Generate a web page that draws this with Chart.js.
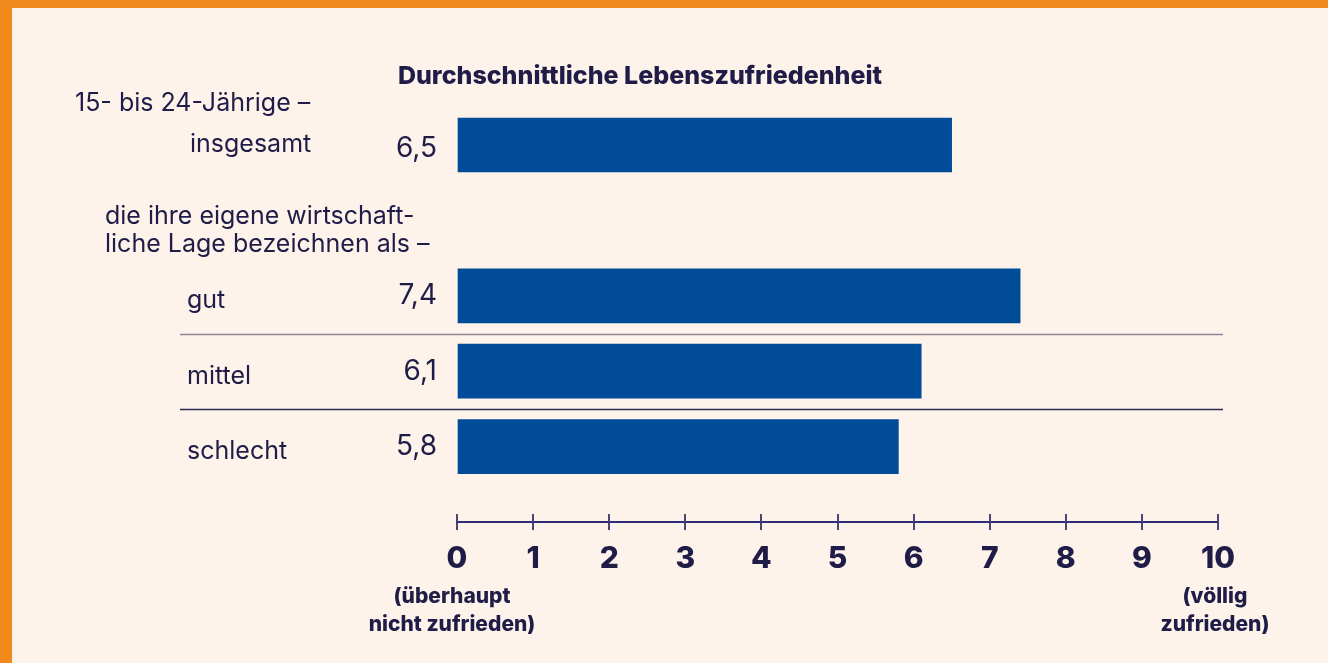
<!DOCTYPE html>
<html>
<head>
<meta charset="utf-8">
<script src="https://cdn.jsdelivr.net/npm/chart.js@4.4.0/dist/chart.umd.min.js"></script>
<style>
  html, body { margin: 0; padding: 0; background: #fdf3ea; }
  #wrap { width: 1328px; height: 663px; }
</style>
</head>
<body>
<div id="wrap"><canvas id="myChart" width="1328" height="663"></canvas></div>
<script>
  // rows: the empty ones are the sub-heading slot and the room for the axis
  const categories = ["insgesamt", "", "gut", "mittel", "schlecht", ""];
  const values = [6.5, null, 7.4, 6.1, 5.8, null];
  const tickValues = [0, 1, 2, 3, 4, 5, 6, 7, 8, 9, 10];
  const title = "Durchschnittliche Lebenszufriedenheit";
  const groupHead = "15- bis 24-Jährige –";
  const subHead = ["die ihre eigene wirtschaft-", "liche Lage bezeichnen als –"];
  const lowNote = ["(überhaupt", "nicht zufrieden)"];
  const highNote = ["(völlig", "zufrieden)"];

  const ink = "#1f1c47";
  const font = "Inter, 'Noto Sans', sans-serif";

  const annotate = {
    id: "annotate",
    beforeDraw(chart) {
      const c = chart.ctx;
      c.save();
      c.fillStyle = "#f08a1c";
      c.fillRect(0, 0, chart.width, chart.height);
      c.fillStyle = "#fdf3ea";
      c.fillRect(12, 8, chart.width - 12, chart.height - 8);
      c.restore();
    },
    afterDraw(chart) {
      const c = chart.ctx;
      const x = chart.scales.x, y = chart.scales.y;
      const x0 = x.getPixelForValue(0);
      c.save();
      c.fillStyle = ink;

      // title
      c.font = "800 25px " + font;
      c.textAlign = "center";
      c.textBaseline = "middle";
      c.fillText(title, 640, 76);

      // row labels and values
      c.textAlign = "left";
      c.font = "25px " + font;
      const yIns = y.getPixelForValue(0);
      c.fillText(groupHead, 75, yIns - 42);
      c.fillText(categories[0], 190, yIns - 1);
      const ySub = y.getPixelForValue(1);
      c.fillText(subHead[0], 105, ySub - 4);
      c.fillText(subHead[1], 105, ySub + 24);
      [2, 3, 4].forEach(i => {
        c.fillText(categories[i], 187, y.getPixelForValue(i) + 5);
      });

      c.textAlign = "right";
      c.font = "28px " + font;
      values.forEach((v, i) => {
        if (v === null) return;
        const dy = i === 0 ? 4 : 0;
        c.fillText(v.toFixed(1).replace(".", ","), x0 - 20, y.getPixelForValue(i) + dy);
      });

      // separators between rows
      c.lineWidth = 1.5;
      [[2, "#8f8799"], [3, "#2c2850"]].forEach(([i, col]) => {
        const yy = Math.round((y.getPixelForValue(i) + y.getPixelForValue(i + 1)) / 2) + 0.5;
        c.strokeStyle = col;
        c.beginPath();
        c.moveTo(180, yy);
        c.lineTo(1223, yy);
        c.stroke();
      });

      // upper half of the axis ticks
      c.strokeStyle = "#4a4770";
      c.lineWidth = 2;
      tickValues.forEach(t => {
        const px = Math.round(x.getPixelForValue(t));
        c.beginPath();
        c.moveTo(px, x.top - 8);
        c.lineTo(px, x.top);
        c.stroke();
      });

      // end notes under the axis
      c.textAlign = "center";
      c.font = "800 21px " + font;
      const x10 = x.getPixelForValue(10);
      c.fillText(lowNote[0], x0 - 5, 597);
      c.fillText(lowNote[1], x0 - 5, 625);
      c.fillText(highNote[0], x10 - 3, 597);
      c.fillText(highNote[1], x10 - 3, 625);
      c.restore();
    }
  };

  new Chart("myChart", {
    type: "bar",
    data: {
      labels: categories,
      datasets: [{
        data: values,
        backgroundColor: "#004c99",
        barThickness: 54,
        clip: false
      }]
    },
    options: {
      indexAxis: "y",
      responsive: false,
      animation: false,
      layout: { padding: { left: 457, right: 110, top: 145, bottom: 71 } },
      plugins: { legend: { display: false }, tooltip: { enabled: false } },
      scales: {
        y: { type: "category", offset: false, display: false },
        x: {
          min: 0, max: 10,
          afterFit(s) { s.height = 70; },
          afterBuildTicks(s) { s.ticks = tickValues.map(v => ({ value: v })); },
          border: { color: "#2e2c74", width: 2 },
          grid: { drawOnChartArea: false, drawTicks: true, tickLength: 8, color: "#4a4770", lineWidth: 2 },
          ticks: { color: ink, padding: 11, font: { family: font, size: 30, weight: "800" } }
        }
      }
    },
    plugins: [annotate]
  });
</script>
</body>
</html>
